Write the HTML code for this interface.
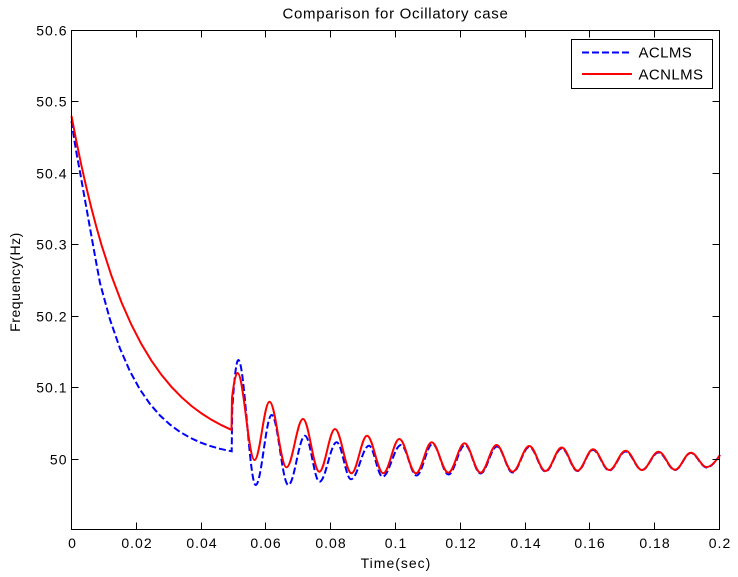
<!DOCTYPE html>
<html>
<head>
<meta charset="utf-8">
<style>
html,body{margin:0;padding:0;background:#fff;}
svg{display:block;}
text{font-family:"Liberation Sans",Arial,sans-serif;fill:#000;}
</style>
</head>
<body>
<svg width="738" height="577" viewBox="0 0 738 577" xmlns="http://www.w3.org/2000/svg">
<rect x="0" y="0" width="738" height="577" fill="#fff"/>

<!-- Title -->
<text x="395.5" y="18.3" font-size="15" letter-spacing="0.7" text-anchor="middle">Comparison for Ocillatory case</text>

<!-- Series: ACLMS (blue dashed) -->
<path fill="none" stroke="#0000ff" stroke-width="2" stroke-dasharray="7,3"
d="M71.5,121 L74,138 L77,156 L80,172 L85,200 L90,228 L95,256 L100,283 L110,319.6 L120,348.5 L130,371.4 L140,389.6 L150,404 L160,415.5 L170,424.6 L180,431.9 L190,437.7 L200,442.3 L210,445.9 L220,448.8 L231.7,451.3 L232.2,410 C233.8,385 236,360 238.3,360
C244.6,360 249.4,485 255.7,485
C261.5,485 265.9,415 271.7,415
C277.7,415 282.3,485 288.3,485
C294.4,485 298.9,435.7 305,435.7
C310.3,435.7 314.2,481.7 319.5,481.7
C325.8,481.7 330.4,442.3 336.7,442.3
C341.9,442.3 345.8,479.3 351,479.3
C357.6,479.3 362.5,445.7 369,445.7
C373.9,445.7 377.6,476.7 382.5,476.7
C389.2,476.7 394.3,445 401,445
C406.6,445 410.9,475.5 416.5,475.5
C422.3,475.5 426.7,444 432.5,444
C438.3,444 442.7,474.5 448.5,474.5
C454.5,474.5 459,445 465,445
C470.6,445 474.9,473.5 480.5,473.5
C486.5,473.5 491,446.5 497,446.5
C502.6,446.5 506.9,472.5 512.5,472.5
C518.6,472.5 523.2,447 529.3,447
C535.2,447 539.6,471.5 545.5,471.5
C551.4,471.5 555.8,448.5 561.7,448.5
C567.5,448.5 571.8,471 577.5,471
C583.1,471 587.4,450 593,450
C598.9,450 603.4,470.5 609.3,470.5
C615.3,470.5 619.7,451.5 625.7,451.5
C631.6,451.5 636.1,470 642,470
C648,470 652.5,452.5 658.5,452.5
C664.5,452.5 669,470 675,470
C680.8,470 685,453 690.8,453
C696.6,453 700.9,467.5 706.7,467.5
C711,467.5 716,461 720,455"/>

<!-- Series: ACNLMS (red solid) -->
<path fill="none" stroke="#ff0000" stroke-width="2"
d="M71.5,116 L76.5,141.9 L81.5,165.9 L86.5,188 L91.5,208.5 L96.5,227.4 L101.5,244.9 L111.5,275.9 L121.5,302.4 L131.5,325 L141.5,344.3 L151.5,360.8 L161.5,374.9 L171.5,386.9 L181.5,397.2 L191.5,406 L201.5,413.4 L211.5,419.8 L221.5,425.2 L231.5,429.9 L232,398 C233.5,385 235.5,373 237.5,373
C243.7,373 248.3,460 254.5,460
C260,460 264,401.7 269.5,401.7
C275.7,401.7 280.3,467.3 286.5,467.3
C292.5,467.3 297,419 303,419
C308.9,419 313.4,471.7 319.3,471.7
C325,471.7 329.3,429 335,429
C341,429 345.5,473.3 351.5,473.3
C357.1,473.3 361.4,435.7 367,435.7
C372.9,435.7 377.4,473.3 383.3,473.3
C389.1,473.3 393.5,439 399.3,439
C405.4,439 409.9,473.3 416,473.3
C421.7,473.3 426,442.3 431.7,442.3
C437.7,442.3 442.3,472.7 448.3,472.7
C454.2,472.7 458.6,443.3 464.5,443.3
C470.3,443.3 474.7,472.7 480.5,472.7
C486.3,472.7 490.7,445 496.5,445
C502.3,445 506.7,471.7 512.5,471.7
C518.6,471.7 523.2,446 529.3,446
C535.2,446 539.6,471 545.5,471
C551.4,471 555.8,447.5 561.7,447.5
C567.5,447.5 571.8,470.7 577.5,470.7
C583.1,470.7 587.4,449.3 593,449.3
C598.9,449.3 603.4,470 609.3,470
C615.3,470 619.7,450.7 625.7,450.7
C631.6,450.7 636.1,470 642,470
C648,470 652.5,451.7 658.5,451.7
C664.5,451.7 669,469.7 675,469.7
C680.8,469.7 685,452.7 690.8,452.7
C696.6,452.7 700.9,467 706.7,467
C711,467 716,461 720,455"/>

<!-- Axes box -->
<rect x="71.5" y="30.5" width="648" height="499" fill="none" stroke="#000" stroke-width="1"/>

<!-- Ticks -->
<g stroke="#000" stroke-width="1" fill="none">
  <!-- y ticks left -->
  <path d="M71.5,30.5h7 M71.5,101.5h7 M71.5,173.5h7 M71.5,244.5h7 M71.5,316.5h7 M71.5,387.5h7 M71.5,459.5h7"/>
  <!-- y ticks right -->
  <path d="M719.5,30.5h-7 M719.5,101.5h-7 M719.5,173.5h-7 M719.5,244.5h-7 M719.5,316.5h-7 M719.5,387.5h-7 M719.5,459.5h-7"/>
  <!-- x ticks bottom -->
  <path d="M71.5,529.5v-7 M136.5,529.5v-7 M201.5,529.5v-7 M265.5,529.5v-7 M330.5,529.5v-7 M395.5,529.5v-7 M460.5,529.5v-7 M525.5,529.5v-7 M589.5,529.5v-7 M654.5,529.5v-7 M719.5,529.5v-7"/>
  <!-- x ticks top -->
  <path d="M71.5,30.5v7 M136.5,30.5v7 M201.5,30.5v7 M265.5,30.5v7 M330.5,30.5v7 M395.5,30.5v7 M460.5,30.5v7 M525.5,30.5v7 M589.5,30.5v7 M654.5,30.5v7 M719.5,30.5v7"/>
</g>

<!-- Y tick labels -->
<g font-size="14" letter-spacing="1" text-anchor="end">
  <text x="67.5" y="35.5">50.6</text>
  <text x="67.5" y="106.5">50.5</text>
  <text x="67.5" y="178.5">50.4</text>
  <text x="67.5" y="249.5">50.3</text>
  <text x="67.5" y="321.5">50.2</text>
  <text x="67.5" y="392.5">50.1</text>
  <text x="67.5" y="464.5">50</text>
</g>

<!-- X tick labels -->
<g font-size="14" letter-spacing="1" text-anchor="middle">
  <text x="72.5" y="548">0</text>
  <text x="137" y="548">0.02</text>
  <text x="202" y="548">0.04</text>
  <text x="266" y="548">0.06</text>
  <text x="331" y="548">0.08</text>
  <text x="396" y="548">0.1</text>
  <text x="461" y="548">0.12</text>
  <text x="526" y="548">0.14</text>
  <text x="590" y="548">0.16</text>
  <text x="655" y="548">0.18</text>
  <text x="720" y="548">0.2</text>
</g>

<!-- Axis labels -->
<text x="396" y="568" font-size="14" letter-spacing="1" text-anchor="middle">Time(sec)</text>
<text transform="translate(20,282) rotate(-90)" font-size="14" letter-spacing="0.55" text-anchor="middle">Frequency(Hz)</text>

<!-- Legend -->
<rect x="571.5" y="39.5" width="141" height="49" fill="#fff" stroke="#000" stroke-width="1"/>
<line x1="582" y1="52.5" x2="630" y2="52.5" stroke="#0000ff" stroke-width="2" stroke-dasharray="7,3"/>
<line x1="582" y1="74" x2="632" y2="74" stroke="#ff0000" stroke-width="2"/>
<text x="638.5" y="57.7" font-size="15" letter-spacing="0.4">ACLMS</text>
<text x="638.5" y="79.3" font-size="15" letter-spacing="0.4">ACNLMS</text>
</svg>
</body>
</html>
